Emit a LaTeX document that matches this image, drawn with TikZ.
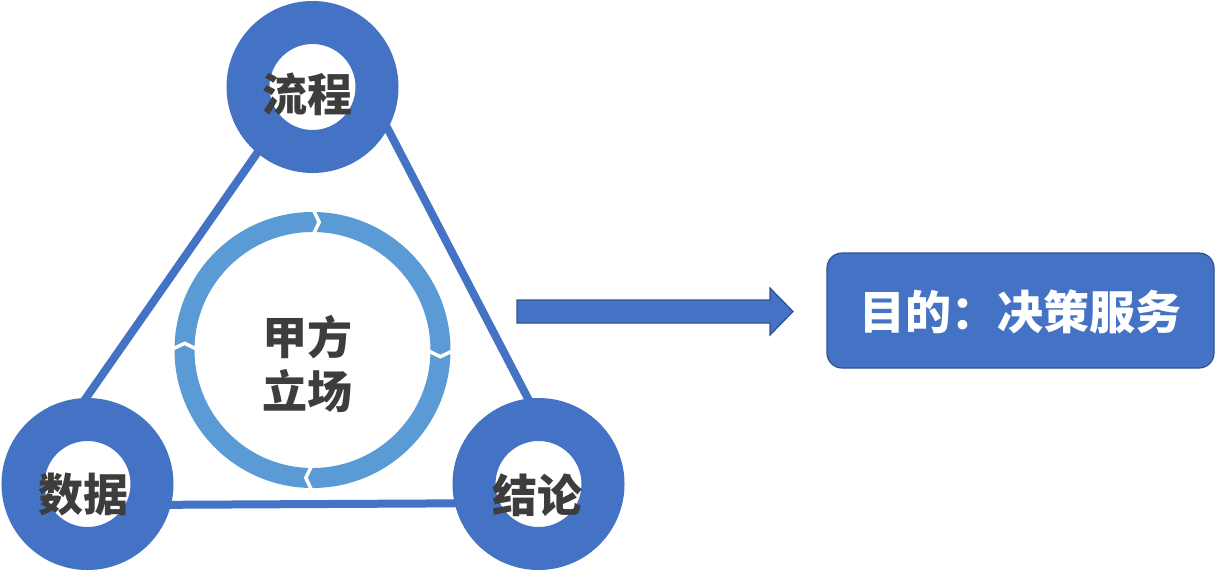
\documentclass[tikz,border=0pt]{standalone}
\usepackage{fontspec}
\newfontfamily\cjk{Noto Sans CJK SC}
\usetikzlibrary{calc}
\pgfdeclarelayer{background}
\pgfsetlayers{background,main}
\definecolor{ringblue}{HTML}{4472C4}
\definecolor{lightblue}{HTML}{5B9BD5}
\definecolor{edgeblue}{HTML}{2F528F}
\definecolor{txtgray}{HTML}{3D3D3D}
\begin{document}
\begin{tikzpicture}[x=1pt,y=-1pt,
  ringnode/.style={circle, draw=ringblue, line width=43pt, minimum size=129pt, inner sep=0pt},
  lbl/.style={font=\cjk\bfseries\fontsize{45}{54}\selectfont, text=txtgray, inner sep=0pt, align=center},
  tri/.style={draw=ringblue, line width=8pt, shorten <=-6pt, shorten >=-6pt},
  chev/.style={draw=white, line width=3.5pt, line join=miter}]
\useasboundingbox (0,0) rectangle (1215,571);
% corner rings
\node[ringnode] (top) at (312.5,87) {};
\node[ringnode] (left) at (87.5,484) {};
\node[ringnode] (right) at (538.5,484) {};
% triangle edges behind rings
\begin{pgfonlayer}{background}
\draw[tri] (top.230) -- (left.91);
\draw[tri] (top.331) -- (right.97);
\draw[tri] (left.346.6) -- (right.193.4);
\end{pgfonlayer}
% labels of rings
\node[lbl] (ltop) at (307,94) {流程};
\node[lbl] (lleft) at (83,495) {数据};
\node[lbl] (lright) at (537,495) {结论};
% central cycle ring
\coordinate (c) at (312.5,350);
\draw[lightblue, line width=20pt] (c) circle[radius=128];
\foreach \a in {0,90,180,270}{
  \draw[chev] ($(c)+(\a:142)$) -- ($(c)+(\a+3:128)$) -- ($(c)+(\a:114)$);
}
\node[lbl] (center) at (307,364) {甲方\\立场};
% big arrow
\draw[fill=ringblue, draw=edgeblue, line width=1.2pt, line join=miter]
  (517,300) -- (770,300) -- (770,288) -- (793,311.5) -- (770,335) -- (770,323) -- (517,323) -- cycle;
% goal box
\node[rounded corners=15pt, fill=ringblue, draw=edgeblue, line width=1.2pt,
      minimum width=387pt, minimum height=115pt, inner sep=0pt] (goal) at (1020.5,310.5) {};
\node[lbl, text=white, font=\cjk\bfseries\fontsize{46}{54}\selectfont] (goaltext) at (1020,312) {目的：决策服务};
\end{tikzpicture}
\end{document}
